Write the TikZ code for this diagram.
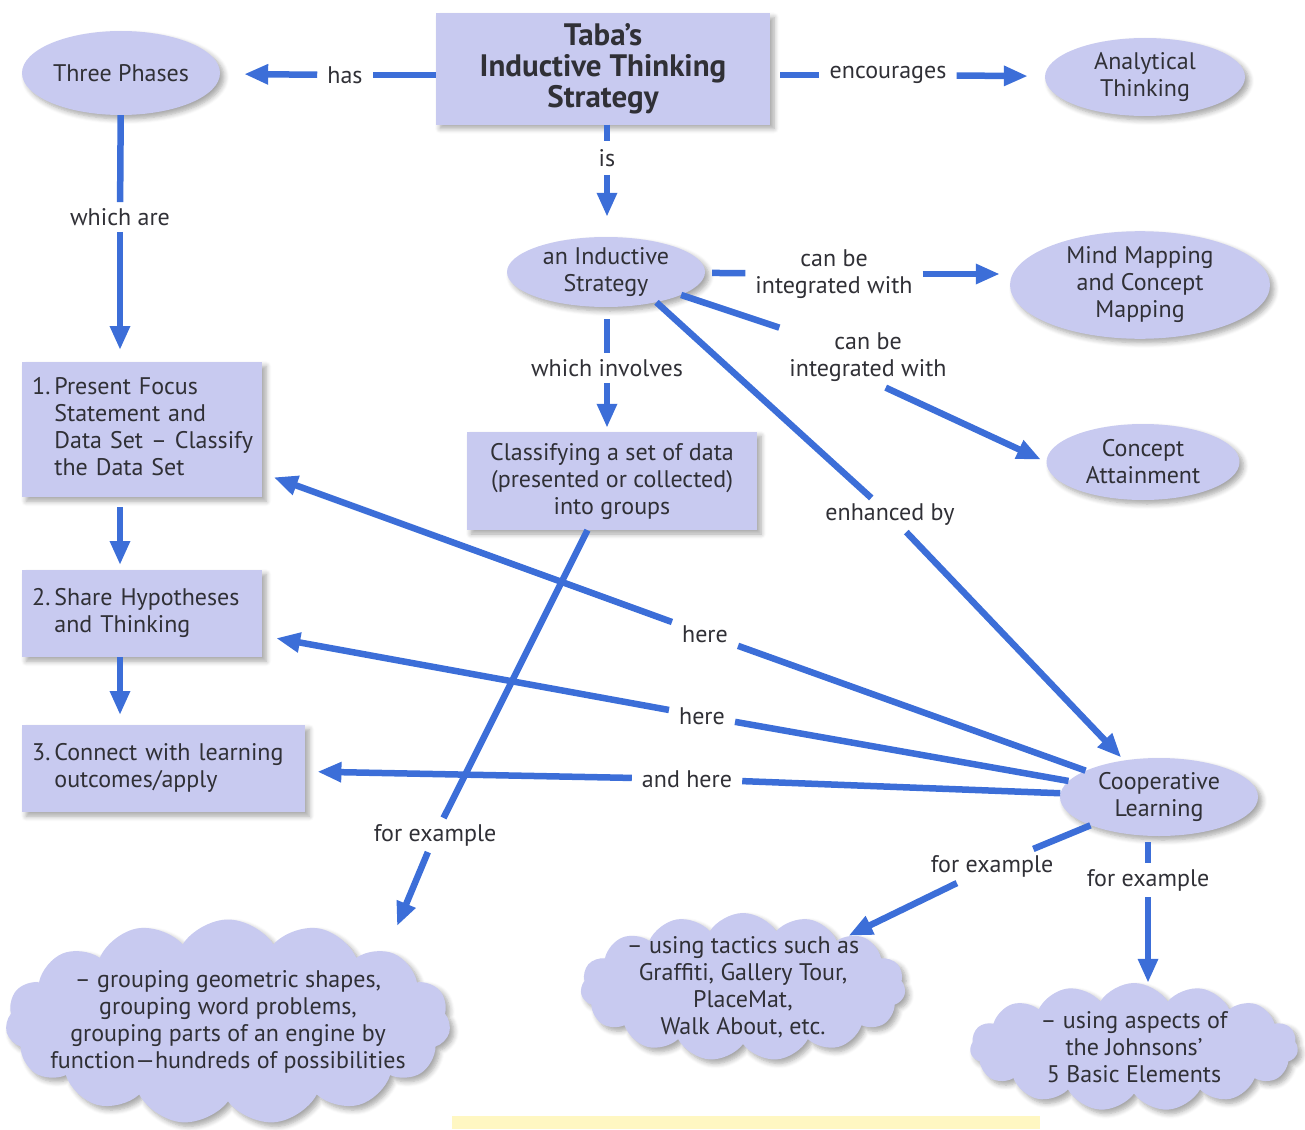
\documentclass[tikz,border=0pt]{standalone}
\usepackage{fontspec}
\setmainfont{PT Sans}
\usetikzlibrary{arrows.meta,shapes.geometric,shapes.symbols,shadows.blur}
\definecolor{lav}{HTML}{C8CAF0}
\definecolor{arrblue}{HTML}{3C6ED8}
\definecolor{txt}{HTML}{303036}
\definecolor{strip}{HTML}{FFF7C2}
\begin{document}
\begin{tikzpicture}[x=1pt,y=-1pt,
  font=\fontsize{24}{27}\selectfont, text=txt,
  concept/.style={fill=lav, blur shadow={shadow xshift=4pt,shadow yshift=-4pt,shadow blur steps=6,shadow blur radius=5pt,shadow opacity=35}},
  oval/.style={concept, ellipse, inner sep=0pt, align=center},
  box/.style={concept, rectangle, inner sep=0pt, align=center},
  sbox/.style={concept, rectangle, inner xsep=10pt, inner ysep=0pt, align=left, anchor=north west},
  cloudy/.style={concept, cloud, cloud puffs=15, cloud puff arc=115, cloud ignores aspect, inner sep=0pt},
  cloudtext/.style={inner sep=0pt, align=center},
  lbl/.style={inner xsep=10pt, inner ysep=6pt, align=center},
  link/.style={draw=arrblue, line width=6.5pt},
  arr/.style={link, -{Triangle[length=24pt,width=19pt]}},
]
\useasboundingbox (0,0) rectangle (1305,1129);
\fill[strip] (452,1116) rectangle (1040,1129);

% concept nodes
\node[box, minimum width=334pt, minimum height=111pt, font=\fontsize{31}{31}\selectfont\bfseries] (title) at (603,69) {Taba’s\\Inductive Thinking\\Strategy};
\node[oval, minimum width=198pt, minimum height=84pt] (three) at (121,73) {Three Phases};
\node[oval, minimum width=200pt, minimum height=78pt] (analytical) at (1145,77) {Analytical\\Thinking};
\node[oval, minimum width=198pt, minimum height=70pt] (inductive) at (606,272) {an Inductive\\Strategy};
\node[oval, minimum width=260pt, minimum height=98pt] (mindmap) at (1140,285) {Mind Mapping\\and Concept\\Mapping};
\node[oval, minimum width=193pt, minimum height=76pt] (attain) at (1143,462) {Concept\\Attainment};
\node[oval, minimum width=198pt, minimum height=78pt] (coop) at (1159,797) {Cooperative\\Learning};
\node[box, minimum width=290pt, minimum height=98pt] (classify) at (612,481) {Classifying a set of data\\(presented or collected)\\into groups};
\node[sbox, text width=220pt, minimum height=135pt] (phase1) at (22,362) {\begin{tabular}{@{}l@{\,}l@{}}1.&Present Focus\\&Statement and\\&Data Set – Classify\\&the Data Set\end{tabular}};
\node[sbox, text width=220pt, minimum height=87pt] (phase2) at (22,570) {\begin{tabular}{@{}l@{\,}l@{}}2.&Share Hypotheses\\&and Thinking\end{tabular}};
\node[sbox, text width=263pt, minimum height=87pt] (phase3) at (22,725) {\begin{tabular}{@{}l@{\,}l@{}}3.&Connect with learning\\&outcomes/apply\end{tabular}};

\node[cloudy, minimum width=445pt, minimum height=205pt] (cloud1) at (228,1022) {};
\node[cloudtext] (cloud1t) at (cloud1) {– grouping geometric shapes,\\grouping word problems,\\grouping parts of an engine by\\function—hundreds of possibilities};
\node[cloudy, minimum width=325pt, minimum height=148pt] (cloud2) at (743,987) {};
\node[cloudtext] (cloud2t) at (cloud2) {– using tactics such as\\Graffiti, Gallery Tour,\\PlaceMat,\\Walk About, etc.};
\node[cloudy, minimum width=328pt, minimum height=128pt] (cloud3) at (1134,1047) {};
\node[cloudtext] (cloud3t) at (cloud3) {– using aspects of\\the Johnsons’\\5 Basic Elements};

% link labels
\node[lbl] (has) at (345,75) {has};
\node[lbl] (encourages) at (888,75) {encourages};
\node[lbl, inner ysep=8pt] (is) at (607,158) {is};
\node[lbl] (whichare) at (120,217) {which are};
\node[lbl] (canbe1) at (834,274) {can be\\integrated with};
\node[lbl] (canbe2) at (868,357) {can be\\integrated with};
\node[lbl] (enhanced) at (890,515) {enhanced by};
\node[lbl] (involves) at (607,368) {which involves};
\node[lbl] (forex1) at (435,835) {for example};
\node[lbl] (here1) at (705,634) {here};
\node[lbl] (here2) at (702,716) {here};
\node[lbl] (andhere) at (687,779) {and here};
\node[lbl] (forex2) at (992,866) {for example};
\node[lbl] (forex3) at (1148,880) {for example};
\coordinate (c1in) at (397,926);

% connectors
\draw[link] (title.west |- has) -- (has);
\draw[arr, shorten >=24pt] (has) -- (three);
\draw[link, shorten <=10pt] (title.east |- encourages) -- (encourages);
\draw[arr, shorten >=17pt] (encourages) -- (analytical);
\draw[link] (is |- title.south) -- (is);
\draw[arr, shorten >=20pt] (is) -- (is |- inductive.north);
\draw[link, shorten <=7pt] (inductive) -- (canbe1);
\draw[arr, shorten >=10pt] (canbe1) -- (canbe1 -| mindmap.west);
\draw[link] (inductive.-17) -- (canbe2);
\draw[arr, shorten >=6pt] (canbe2.-60) -- (attain.west);
\draw[link] (inductive.-31) -- (enhanced);
\draw[arr, shorten >=4pt] (enhanced) -- (coop);
\draw[link, shorten <=12pt] (involves |- inductive.south) -- (involves);
\draw[arr, shorten >=4pt] (involves) -- (involves |- classify.north);
\draw[link] (classify) -- (forex1);
\draw[arr] (forex1) -- (c1in);
\draw[link] (three) -- (whichare);
\draw[arr, shorten >=12pt] (whichare) -- (whichare |- phase1.north);
\draw[arr, shorten <=10pt, shorten >=5pt] (whichare |- phase1.south) -- (whichare |- phase2.north);
\draw[arr, shorten >=10pt] (whichare |- phase2.south) -- (whichare |- phase3.north);
\draw[link] (coop) -- (here1);
\draw[arr, shorten >=12pt] (here1) -- (phase1);
\draw[link] (coop) -- (here2);
\draw[arr, shorten >=14pt] (here2) -- (phase2);
\draw[link] (coop) -- (andhere);
\draw[arr, shorten >=12pt] (andhere) -- (phase3);
\draw[link] (coop) -- (forex2);
\draw[arr] (forex2) -- (cloud2);
\draw[link, shorten <=6pt] (forex3 |- coop.south) -- (forex3);
\draw[arr] (forex3) -- (forex3 |- cloud3.north);
\end{tikzpicture}
\end{document}
